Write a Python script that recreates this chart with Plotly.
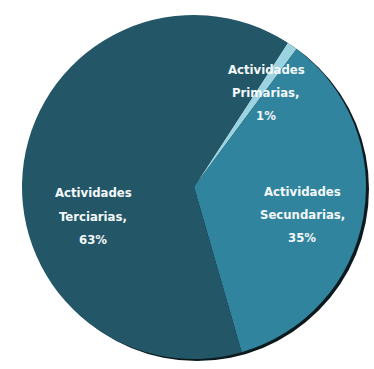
import plotly.graph_objects as go

# Distribution of economic activity by sector
sectors = ["Actividades Primarias", "Actividades Secundarias", "Actividades Terciarias"]
shares = [1, 35, 63]
colors = ["#9cd3e1", "#31849d", "#235767"]

W, H = 374, 369
cx, cy, r = 194, 187, 172

# Label anchor positions (pixels from top-left) for each sector
label_pos = [(266, 92), (302, 214), (93, 216)]
line_gap = 23

fig = go.Figure()
fig.add_trace(go.Pie(
    labels=sectors,
    values=shares,
    sort=False,
    direction="clockwise",
    rotation=33,
    marker=dict(colors=colors, line=dict(width=0)),
    textinfo="none",
    hoverinfo="label+percent",
    showlegend=False,
    domain=dict(x=[(cx - r) / W, (cx + r) / W], y=[1 - (cy + r) / H, 1 - (cy - r) / H]),
))

# Soft dark rim along the lower right edge
fig.add_shape(
    type="circle", xref="paper", yref="paper", layer="below",
    x0=(cx - r + 3) / W, x1=(cx + r + 3) / W,
    y0=1 - (cy + r + 2) / H, y1=1 - (cy - r + 2) / H,
    fillcolor="#0c1a1f", line=dict(width=0),
)

for name, val, (px, py) in zip(sectors, shares, label_pos):
    word1, word2 = name.split(" ")
    lines = [word1, word2 + ",", f"{val}%"]
    for i, txt in enumerate(lines):
        fig.add_annotation(
            x=px / W, y=1 - (py + (i - 1) * line_gap) / H,
            xref="paper", yref="paper", text=txt, showarrow=False,
            xanchor="center", yanchor="middle",
            font=dict(family="DejaVu Sans Condensed, Liberation Sans Narrow, sans-serif",
                      size=13, weight="bold", color="#f4f8f9"),
        )

fig.update_layout(
    width=W, height=H,
    margin=dict(l=0, r=0, t=0, b=0),
    paper_bgcolor="#ffffff",
    plot_bgcolor="#ffffff",
)

fig.write_html("out.html")
